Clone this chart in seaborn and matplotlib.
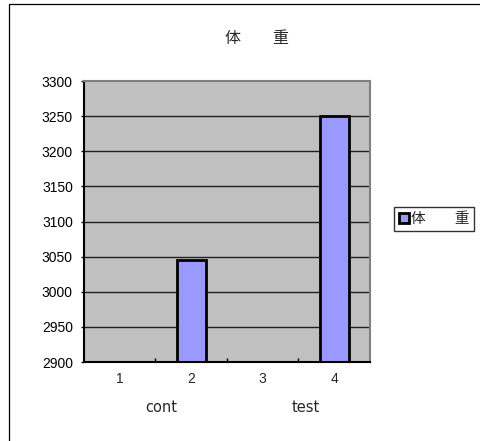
import numpy as np
import pandas as pd
import matplotlib
matplotlib.use("Agg")
import matplotlib.pyplot as plt
import seaborn as sns
from matplotlib.patches import Rectangle

# data
categories = ["1", "2", "3", "4"]
weights = [np.nan, 3046, np.nan, 3251]
groups = ["cont", "test"]
series_name = "体\u3000\u3000重"

sns.set_style("white")
plt.rcParams['font.family'] = ['Liberation Sans', 'Noto Sans CJK JP']
cjk = ['Noto Sans CJK JP', 'DejaVu Sans']

df = pd.DataFrame({"cat": categories, "w": weights})

fig = plt.figure(figsize=(4.81, 4.41), dpi=100)
ax = fig.add_axes([0.1746, 0.179, 0.5946, 0.637])

# horizontal grid lines at the y ticks
yticks = np.arange(2900, 3301, 50)
for yv in yticks[1:-1]:
    ax.axhline(yv, color="#202020", lw=1.0, zorder=0)

sns.barplot(data=df, x="cat", y="w", order=categories, color="#9999FF",
            edgecolor="black", linewidth=2.0, width=0.41, errorbar=None,
            saturation=1, label=series_name, ax=ax, zorder=2)

ax.set_facecolor("#C0C0C0")
ax.set_ylim(2900, 3300)
ax.set_xlim(-0.5, 3.5)
ax.set_yticks(yticks)
ax.set_xlabel("")
ax.set_ylabel("")

for side in ["left", "bottom"]:
    ax.spines[side].set_color("black")
    ax.spines[side].set_linewidth(1.5)
for side in ["top", "right"]:
    ax.spines[side].set_color("#808080")
    ax.spines[side].set_linewidth(1.5)
    ax.spines[side].set_visible(True)

ax.tick_params(axis="y", which="major", length=2, width=1, direction="out",
               pad=6, labelsize=10, left=True, colors="black")
ax.tick_params(axis="x", which="major", length=0, pad=7, labelsize=10)
ax.set_xticks([0.5, 1.5, 2.5], minor=True)
ax.tick_params(axis="x", which="minor", length=3, width=1, direction="in",
               bottom=True, color="black")

# second row of category labels (group names under each pair)
trans = ax.get_xaxis_transform()
for xpos, g in zip([0.58, 2.6], groups):
    ax.text(xpos, -0.16, g, transform=trans, ha="center", va="center",
            fontsize=10.5, family="DejaVu Sans")

fig.text(0.535, 0.913, series_name, ha="center", va="center", fontsize=11.5, family=cjk)

leg = ax.legend(loc="center left", bbox_to_anchor=(0.8191, 0.5039),
                bbox_transform=fig.transFigure, frameon=True, fancybox=False,
                edgecolor="black", prop={"family": cjk, "size": 10.5},
                handlelength=0.65, handleheight=0.65,
                handletextpad=0.15, borderpad=0.35, borderaxespad=0)
leg.get_frame().set_linewidth(1.0)

# outer chart frame
fig.patches.append(Rectangle((9.3 / 481, -0.1), 1.1, 1.09, transform=fig.transFigure,
                             fill=False, edgecolor="black", lw=0.9))

fig.savefig("out.png", dpi=100)
